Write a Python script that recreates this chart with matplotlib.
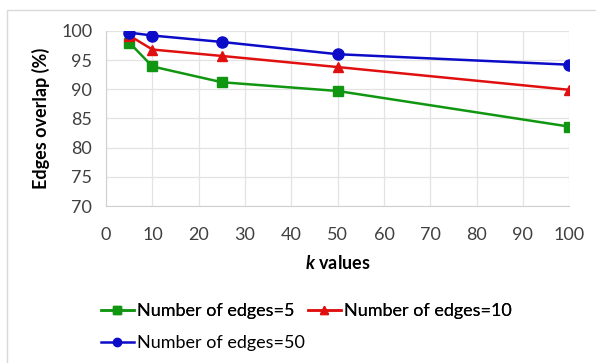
import matplotlib.pyplot as plt
from matplotlib.patches import Rectangle

plt.rcParams['font.family'] = ['Lato', 'DejaVu Sans']
plt.rcParams['mathtext.fontset'] = 'custom'
plt.rcParams['mathtext.it'] = 'Lato:italic:bold'

k_values = [5, 10, 25, 50, 100]
edges_5 = [98.0, 93.9, 91.2, 89.7, 83.6]
edges_10 = [99.2, 96.8, 95.7, 93.8, 89.9]
edges_50 = [99.7, 99.2, 98.1, 96.0, 94.2]

fig = plt.figure(figsize=(5.96, 3.63), dpi=100)
ax = fig.add_axes([0.178, 0.4325, 0.777, 0.4825])

# cadre gris autour du graphique
fig.patches.append(Rectangle((0.012, -0.05), 1.2, 1.022, transform=fig.transFigure,
                             fill=False, edgecolor='#d9d9d9', linewidth=1))

l5, = ax.plot(k_values, edges_5, color='#119611', marker='s', markersize=7, linewidth=1.8,
              label='Number of edges=5')
l10, = ax.plot(k_values, edges_10, color='#e01010', marker='^', markersize=7, linewidth=1.8,
               label='Number of edges=10')
l50, = ax.plot(k_values, edges_50, color='#0c0cc8', marker='o', markersize=8, linewidth=1.8,
               label='Number of edges=50')

ax.set_xlim(0, 100)
ax.set_ylim(70, 100)
ax.set_xticks(range(0, 101, 10))
ax.set_yticks(range(70, 101, 5))
ax.grid(True, color='#e3e3e3', linewidth=0.9)
ax.set_axisbelow(True)
for s in ['top', 'right']:
    ax.spines[s].set_visible(False)
for s in ['left', 'bottom']:
    ax.spines[s].set_color('#d0d0d0')
ax.tick_params(length=0, labelsize=13, colors='#404040')
ax.tick_params(axis='x', pad=15)
ax.tick_params(axis='y', pad=10)

ax.set_xlabel(r'$k$ values', fontsize=13, fontweight='bold', labelpad=8)
ax.set_ylabel('Edges overlap (%)', fontsize=13, fontweight='bold', labelpad=8)

# legende placee entree par entree comme dans Excel
opts = dict(loc='center left', frameon=False, fontsize=13, handlelength=1.8,
            handletextpad=0.2, markerscale=0.75, borderpad=0, borderaxespad=0)
positions = [(101, 311), (308, 311), (101, 343)]
legs = []
for line, (px, py) in zip([l5, l10, l50], positions):
    leg = fig.legend([line], [line.get_label()], bbox_to_anchor=(px / 596, 1 - py / 363), **opts)
    legs.append(leg)
for leg in legs[:-1]:
    fig.add_artist(leg)

fig.savefig('out.png', dpi=100)
